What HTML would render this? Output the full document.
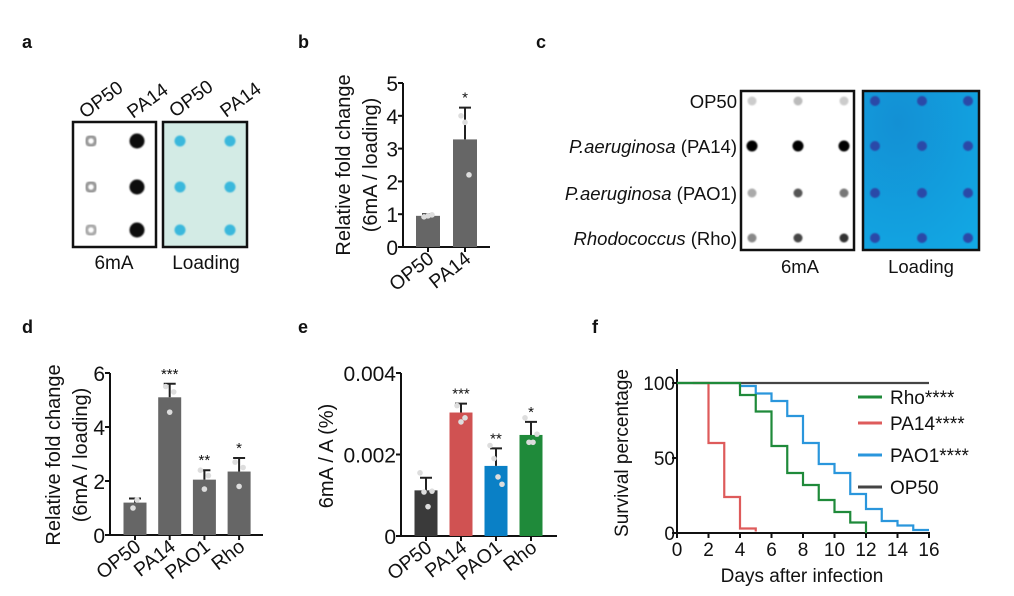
<!DOCTYPE html>
<html><head><meta charset="utf-8"><style>
html,body{margin:0;padding:0;background:#fff;}
svg{display:block;font-family:"Liberation Sans",Arial,sans-serif;}
</style></head><body>
<svg id="fig" width="1014" height="596" viewBox="0 0 1014 596">
<defs>
<radialGradient id="gblue" cx="0.3" cy="0.2" r="1"><stop offset="0" stop-color="#1390d4"/><stop offset="1" stop-color="#12a8e4"/></radialGradient>
<filter id="blur"><feGaussianBlur stdDeviation="0.8"/></filter>
</defs>
<g font-weight="bold" font-size="18" fill="#111">
<text x="22" y="48">a</text>
<text x="298" y="48">b</text>
<text x="536" y="48">c</text>
<text x="22" y="333">d</text>
<text x="298" y="333">e</text>
<text x="592" y="333">f</text>
</g>
<!-- panel a -->
<g id="pa">
<rect x="73" y="122" width="83" height="125" fill="#fff" stroke="#111" stroke-width="2.5"/>
<rect x="163" y="122" width="84" height="125" fill="#d3ebe5" stroke="#111" stroke-width="2.5"/>
<g font-size="19" fill="#111">
<text transform="translate(85,119) rotate(-36)">OP50</text>
<text transform="translate(133,119) rotate(-36)">PA14</text>
<text transform="translate(175,118) rotate(-36)">OP50</text>
<text transform="translate(226,118) rotate(-36)">PA14</text>
<text x="114" y="269" text-anchor="middle">6mA</text>
<text x="206" y="269" text-anchor="middle">Loading</text>
</g>
</g>
<!-- panel c -->
<g id="pc">
<rect x="741" y="91" width="113" height="159" fill="#fff" stroke="#111" stroke-width="2.5"/>
<rect x="863" y="91" width="116" height="159" fill="url(#gblue)" stroke="#111" stroke-width="2.5"/>
<g font-size="18.5" fill="#111" text-anchor="end">
<text x="737" y="108">OP50</text>
<text x="737" y="153"><tspan font-style="italic">P.aeruginosa</tspan> (PA14)</text>
<text x="737" y="200"><tspan font-style="italic">P.aeruginosa</tspan> (PAO1)</text>
<text x="737" y="245"><tspan font-style="italic">Rhodococcus</tspan> (Rho)</text>
</g>
<g font-size="18.5" fill="#111" text-anchor="middle">
<text x="800" y="273">6mA</text>
<text x="921" y="273">Loading</text>
</g>
</g>
<g id="pb"></g><g id="pd"></g><g id="pe"></g><g id="pf"></g>
</svg>
<script>
const NS='http://www.w3.org/2000/svg';
function mk(parent,tag,attrs,text){const e=document.createElementNS(NS,tag);for(const k in attrs)e.setAttribute(k,attrs[k]);if(text!==undefined)e.textContent=text;parent.appendChild(e);return e;}

// ---- Panel a blot intensities ----
const blotA6mA=[["#999","#111"],["#999","#111"],["#aaa","#111"]];
const blotACols=[91,137], blotARows=[141,187,230], blotALoadCols=[180,230];
const pa=document.getElementById('pa');
blotARows.forEach((y,r)=>{blotA6mA[r].forEach((c,i)=>{
 const big=c==="#111";
 const d=mk(pa,'circle',{cx:blotACols[i],cy:y,r:big?7.5:4.5,fill:big?c:'none',stroke:c,'stroke-width':big?0:3.5,filter:'url(#blur)'});
 
 
 const l=mk(pa,'circle',{cx:blotALoadCols[i],cy:y,r:5.5,fill:'#3bb8dc',filter:'url(#blur)'});
 
 
});});

// ---- Panel c blot ----
const blotC6mA=[["#ccc","#bbb","#ccc"],["#000","#000","#000"],["#aaa","#555","#777"],["#888","#444","#333"]];
const blotCRows=[101,146,193,238], blotCCols=[752,798,844], blotCLoadCols=[875,922,968];
const pc=document.getElementById('pc');
blotCRows.forEach((y,r)=>{blotC6mA[r].forEach((c,i)=>{
 const d=mk(pc,'circle',{cx:blotCCols[i],cy:y,r:r===1?5.5:4.5,fill:c,filter:'url(#blur)'});
 
 
 const l=mk(pc,'circle',{cx:blotCLoadCols[i],cy:y,r:5,fill:'#2c4aa8',filter:'url(#blur)'});
 
 
});});

// ---- Bar chart data ----
const bCats=["OP50","PA14"];
const bMeans=[0.95,3.28];
const bErr=[1.0,4.25];
const bPoints=[[0.92,0.95,0.98],[4.0,3.8,2.2]];
const bStars=["","*"];
const bTicks=[0,1,2,3,4,5];

const dCats=["OP50","PA14","PAO1","Rho"];
const dMeans=[1.2,5.1,2.05,2.35];
const dErr=[1.35,5.6,2.4,2.85];
const dPoints=[[1.0,1.3],[5.5,4.55,5.3],[2.4,1.7,2.2],[2.7,1.8,2.5]];
const dStars=["","***","**","*"];
const dTicks=[0,2,4,6];

const eCats=["OP50","PA14","PAO1","Rho"];
const eMeans=[0.00112,0.00303,0.00172,0.00248];
const eErr=[0.00143,0.00325,0.00215,0.0028];
const ePoints=[[0.00155,0.00108,0.00072,0.0011],[0.0032,0.0028,0.0029],[0.00222,0.0019,0.00145,0.00127],[0.0029,0.0023,0.0023,0.0025]];
const eStars=["","***","**","*"];
const eTicks=[0,0.002,0.004];
const eTickLabels=["0","0.002","0.004"];
const eColors=["#3a3a3a","#d05252","#0a80c6","#1f8a3a"];

function barChart(g,cfg){
 const y=v=>cfg.y0-(v-cfg.vmin)/(cfg.vmax-cfg.vmin)*(cfg.y0-cfg.y1);
 const x=i=>cfg.xStart+i*cfg.step;
 const ya=mk(g,'line',{x1:cfg.ax,y1:cfg.y1,x2:cfg.ax,y2:cfg.y0,stroke:'#111','stroke-width':2});
 
 
 const xa=mk(g,'line',{x1:cfg.ax,y1:cfg.y0,x2:cfg.axEnd,y2:cfg.y0,stroke:'#111','stroke-width':2});
 
 
 cfg.ticks.forEach((t,i)=>{
  mk(g,'line',{x1:cfg.ax-5,y1:y(t),x2:cfg.ax,y2:y(t),stroke:'#111','stroke-width':2});
  const tl=mk(g,'text',{x:cfg.ax-5,y:y(t)+8,'text-anchor':'end','font-size':21,fill:'#111'},cfg.tickLabels?cfg.tickLabels[i]:String(t));
  
  
 });
 cfg.cats.forEach((c,i)=>{
  const cx=x(i);
  const top=y(cfg.means[i]);
  const b=mk(g,'rect',{x:cx-cfg.bw/2,y:top,width:cfg.bw,height:cfg.y0-top,fill:cfg.colors?cfg.colors[i]:'#666'});
  
  
  const et=y(cfg.err[i]);
  const eb=mk(g,'path',{d:`M${cx},${top}V${et}M${cx-6},${et}H${cx+6}`,stroke:'#222','stroke-width':2,fill:'none'});
  
  
  const n=cfg.points[i].length;
  cfg.points[i].forEach((p,j)=>{
   const dot=mk(g,'circle',{cx:cx+(j-(n-1)/2)*4,cy:y(p),r:2.8,fill:'#ddd'});
   
   
  });
  if(cfg.stars[i]){
   const s=mk(g,'text',{x:cx,y:et-5,'text-anchor':'middle','font-size':15,fill:'#111'},cfg.stars[i]);
   
   
  }
  mk(g,'line',{x1:cx,y1:cfg.y0,x2:cx,y2:cfg.y0+5,stroke:'#111','stroke-width':2});
  const xl=mk(g,'text',{transform:`translate(${cx+7},${cfg.y0+14}) rotate(-38)`,'text-anchor':'end','font-size':19.5,fill:'#111'},c);
  
  
 });
 cfg.titles.forEach((t,k)=>{
  const tt=mk(g,'text',{transform:`translate(${cfg.titleX[k]},${cfg.titleY}) rotate(-90)`,'text-anchor':'middle','font-size':20,fill:'#111'},t);
  
  
 });
}
barChart(document.getElementById('pb'),{cats:bCats,means:bMeans,err:bErr,points:bPoints,stars:bStars,ticks:bTicks,
 vmin:0,vmax:5,y0:247,y1:83,ax:403,axEnd:490,xStart:428,step:37,bw:24,titles:["Relative fold change","(6mA / loading)"],titleX:[350,377],titleY:165});
barChart(document.getElementById('pd'),{cats:dCats,means:dMeans,err:dErr,points:dPoints,stars:dStars,ticks:dTicks,
 vmin:0,vmax:6,y0:535,y1:373,ax:110,axEnd:263,xStart:135,step:34.7,bw:23,titles:["Relative fold change","(6mA / loading)"],titleX:[60,87],titleY:455});
barChart(document.getElementById('pe'),{cats:eCats,means:eMeans,err:eErr,points:ePoints,stars:eStars,ticks:eTicks,tickLabels:eTickLabels,colors:eColors,
 vmin:0,vmax:0.004,y0:536,y1:373,ax:401,axEnd:557,xStart:426,step:35,bw:23,titles:["6mA / A (%)"],titleX:[333],titleY:456});

// ---- Panel f survival ----
const fSeriesNames=["Rho****","PA14****","PAO1****","OP50"];
const fColors=["#1f8a3a","#de5b5b","#2a96dc","#444"];
const rhoDays=[0,4,5,6,7,8,9,10,11,12];
const rhoSurv=[100,92,81,58,40,32,22,14,7,0];
const pa14Days=[1,2,3,4,5];
const pa14Surv=[100,60,24,3,1];
const pao1Days=[4,5,6,7,8,9,10,11,12,13,14,15,16];
const pao1Surv=[98,93,88,78,60,46,40,26,16,8,5,2,2];
const op50Days=[0,16];
const op50Surv=[100,100];
const fXTicks=[0,2,4,6,8,10,12,14,16];
const fYTicks=[0,50,100];
const pf=document.getElementById('pf');
const fx=d=>677+d*(929-677)/16, fy=v=>533-v*(533-383)/100;
const fya=mk(pf,'line',{x1:677,y1:369,x2:677,y2:534,stroke:'#111','stroke-width':2});


const fxa=mk(pf,'line',{x1:676,y1:533,x2:930,y2:533,stroke:'#111','stroke-width':2});


fXTicks.forEach(t=>{
 mk(pf,'line',{x1:fx(t),y1:533,x2:fx(t),y2:538,stroke:'#111','stroke-width':2});
 const l=mk(pf,'text',{x:fx(t),y:556,'text-anchor':'middle','font-size':19,fill:'#111'},String(t));
 
 
});
fYTicks.forEach(t=>{
 mk(pf,'line',{x1:672,y1:fy(t),x2:677,y2:fy(t),stroke:'#111','stroke-width':2});
 const l=mk(pf,'text',{x:675,y:fy(t)+7,'text-anchor':'end','font-size':19,fill:'#111'},String(t));
 
 
});
function stepPath(days,surv,first){
 let d=`M${fx(first[0])},${fy(first[1])}`;
 for(let i=0;i<days.length;i++){d+=`H${fx(days[i])}V${fy(surv[i])}`;}
 return d;
}
const fDrawOrder=[[op50Days,op50Surv,3,[0,100]],[pa14Days,pa14Surv,1,[1,100]],[pao1Days,pao1Surv,2,[4,100]],[rhoDays,rhoSurv,0,[0,100]]];
fDrawOrder.forEach(([d,s,ci,first])=>{
 let p;
 if(ci===3) p=`M${fx(d[0])},${fy(s[0])}H${fx(d[d.length-1])}`;
 else if(ci===2) p=stepPath(d,s,first)+`H${fx(d[d.length-1])}`;
 else p=stepPath(d,s,first);
 const e=mk(pf,'path',{d:p,stroke:fColors[ci],'stroke-width':2.2,fill:'none'});
 
 
});
const legY=[397,423,455,487];
fSeriesNames.forEach((n,i)=>{
 mk(pf,'line',{x1:858,y1:legY[i],x2:882,y2:legY[i],stroke:fColors[i],'stroke-width':3});
 const t=mk(pf,'text',{x:890,y:legY[i]+7,'font-size':19,fill:'#111'},n);
 
 
});
const fxt=mk(pf,'text',{x:802,y:582,'text-anchor':'middle','font-size':19,fill:'#111'},'Days after infection');


const fyt=mk(pf,'text',{transform:'translate(628,453) rotate(-90)','text-anchor':'middle','font-size':19,fill:'#111'},'Survival percentage');


</script>
</body></html>
